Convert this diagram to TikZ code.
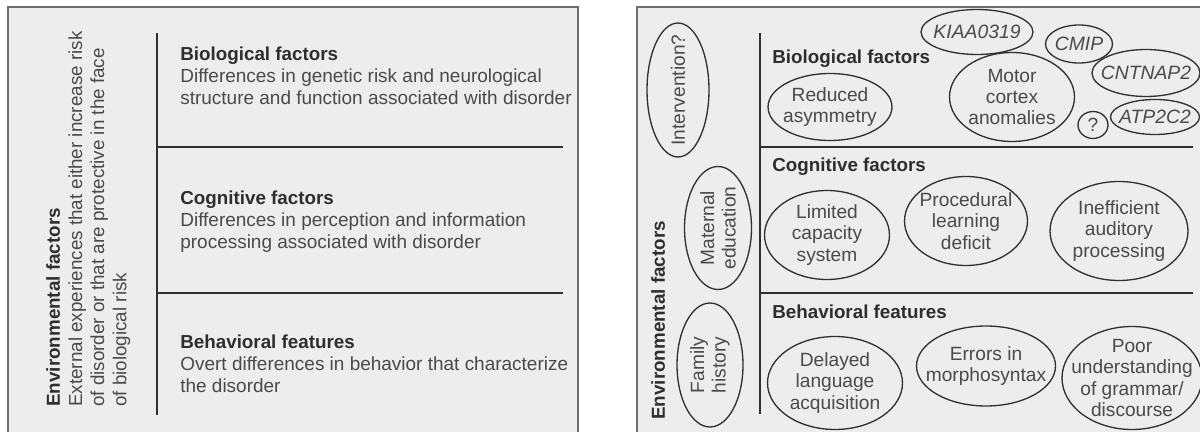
\documentclass[tikz,border=0pt]{standalone}
\usepackage{fontspec}
\setmainfont{Liberation Sans}
\usetikzlibrary{shapes.geometric}

\definecolor{panelfill}{HTML}{EDEDED}
\definecolor{panelline}{HTML}{6E6E6E}
\definecolor{inkgray}{HTML}{4A4A4A}
\definecolor{headgray}{HTML}{2E2E2E}
\definecolor{rulegray}{HTML}{303030}

\begin{document}
\begin{tikzpicture}[x=0.02cm, y=-0.02cm]
  \tikzstyle{panel} = [draw=panelline, line width=0.8pt, fill=panelfill]
  \tikzstyle{divider} = [draw=rulegray, line width=1pt]
  \tikzstyle{block} = [anchor=north west, inner sep=0pt, align=left, text=inkgray, font=\fontsize{10.8}{12.5}\selectfont]
  \tikzstyle{heading} = [anchor=north west, inner sep=0pt, text=headgray, font=\fontsize{10.7}{12.5}\selectfont\bfseries]
  \tikzstyle{oval} = [ellipse, draw=rulegray, line width=0.75pt, inner sep=-20pt, align=center, text=inkgray, font=\fontsize{10.9}{12.2}\selectfont]
  \tikzstyle{gene} = [oval, font=\fontsize{11}{12.2}\selectfont\itshape]

  \useasboundingbox (0,0) rectangle (1200,432);

  % left panel: the framework
  \path[panel] (8,7) rectangle (578,450);
  \draw[divider] (157,33) -- (157,415);
  \draw[divider] (157,147) -- (563,147);
  \draw[divider] (157,293) -- (563,293);

  \node[block, rotate=90, font=\fontsize{10.7}{12.6}\selectfont] (lenv) at (46,407) {{\fontsize{10.7}{12.6}\selectfont\bfseries\color{headgray}Environmental factors}\\External experiences that either increase risk\\of disorder or that are protective in the face\\of biological risk};
  \node[block] (lbio) at (180,47) {{\fontsize{10.7}{12.5}\selectfont\bfseries\color{headgray}Biological factors}\\Differences in genetic risk and neurological\\structure and function associated with disorder};
  \node[block] (lcog) at (180,191) {{\fontsize{10.7}{12.5}\selectfont\bfseries\color{headgray}Cognitive factors}\\Differences in perception and information\\processing associated with disorder};
  \node[block] (lbeh) at (180,335) {{\fontsize{10.7}{12.5}\selectfont\bfseries\color{headgray}Behavioral features}\\Overt differences in behavior that characterize\\the disorder};

  % right panel: applied to the disorder
  \path[panel] (637,7) rectangle (1220,450);
  \draw[divider] (760,33) -- (760,414);
  \draw[divider] (760,147) -- (1193,147);
  \draw[divider] (760,293) -- (1193,293);

  \node[heading, rotate=90] (renv) at (651,420) {Environmental factors};
  \node[oval, rotate=90, minimum width=2.68cm, minimum height=1.24cm] (interv) at (678,90) {Intervention?};
  \node[oval, rotate=90, minimum width=2.46cm, minimum height=1.34cm] (matedu) at (718,228) {Maternal\\education};
  \node[oval, rotate=90, minimum width=2.48cm, minimum height=1.32cm] (famhist) at (710,365) {Family\\history};

  \node[heading] (rbio) at (772,50) {Biological factors};
  \node[heading] (rcog) at (772,158) {Cognitive factors};
  \node[heading] (rbeh) at (772,305) {Behavioral features};

  \node[oval, minimum width=2.48cm, minimum height=1.34cm] (redasym) at (830,107) {Reduced\\asymmetry};
  \node[oval, minimum width=2.5cm, minimum height=1.78cm] (motor) at (1012,97) {Motor\\cortex\\anomalies};
  \node[gene, minimum width=2.24cm, minimum height=0.9cm] (kiaa) at (977,32) {KIAA0319};
  \node[gene, minimum width=1.34cm, minimum height=0.76cm] (cmip) at (1079,44) {CMIP};
  \node[gene, minimum width=2.16cm, minimum height=0.94cm] (cntnap) at (1146,73) {CNTNAP2};
  \node[oval, minimum width=0.6cm, minimum height=0.54cm] (unknown) at (1093,125) {?};
  \node[gene, minimum width=1.78cm, minimum height=0.7cm] (atp) at (1155,117) {ATP2C2};

  \node[oval, minimum width=2.5cm, minimum height=1.78cm] (limcap) at (827,235) {Limited\\capacity\\system};
  \node[oval, minimum width=2.46cm, minimum height=1.78cm] (proclearn) at (966,221) {Procedural\\learning\\deficit};
  \node[oval, minimum width=2.76cm, minimum height=1.98cm] (audproc) at (1119,231) {Inefficient\\auditory\\processing};

  \node[oval, minimum width=2.7cm, minimum height=1.86cm] (delayed) at (835,383) {Delayed\\language\\acquisition};
  \node[oval, minimum width=2.78cm, minimum height=1.6cm] (morpho) at (986,366) {Errors in\\morphosyntax};
  \node[oval, minimum width=2.8cm, minimum height=2.06cm] (grammar) at (1132,378) {Poor\\understanding\\of grammar/\\discourse};
\end{tikzpicture}
\end{document}
